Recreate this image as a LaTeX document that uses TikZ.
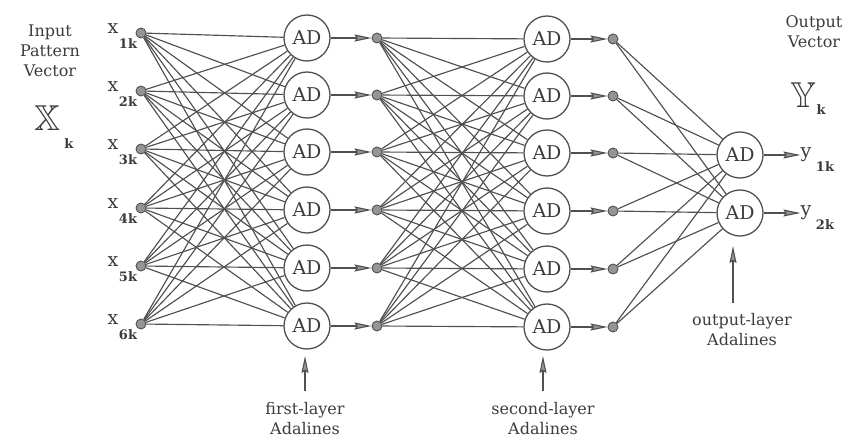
\documentclass[tikz,border=0pt]{standalone}
\usepackage{fontspec}
\setmainfont{DejaVu Serif}
\usepackage{amssymb}
\usetikzlibrary{arrows.meta}
\definecolor{ink}{HTML}{505050}
\definecolor{txt}{HTML}{3C3C3C}
\definecolor{dotfill}{HTML}{959595}
\begin{document}
\begin{tikzpicture}[x=1pt,y=-1pt,
  ad/.style={circle,draw=ink,line width=1.3pt,minimum size=46pt,inner sep=0pt,
    font=\fontsize{19}{19}\selectfont,text=txt},
  dotnode/.style={circle,draw=ink,fill=dotfill,minimum size=10pt,inner sep=0pt,line width=0.9pt},
  wire/.style={draw=ink,line width=1.15pt},
  arr/.style={draw=ink,line width=1.1pt,
    -{Stealth[length=17pt,width=7pt,inset=2pt,fill=dotfill]}},
  lbl/.style={text=txt,font=\fontsize{16}{20}\selectfont,align=center,inner sep=0pt},
  letter/.style={text=txt,font=\fontsize{19}{19}\selectfont,inner sep=0pt},
  subs/.style={text=txt,font=\fontsize{13}{13}\selectfont\bfseries,inner sep=0pt},
  big/.style={text=txt,font=\fontsize{36}{36}\selectfont,inner sep=0pt},
]
\useasboundingbox (0,0) rectangle (848,441);

% left labels
\node[lbl] (inlbl) at (50,51) {Input\\Pattern\\Vector};
\node[big] (Xk) at (47,118) {$\mathbb{X}$};
\node[subs] (Xks) at (69,144) {k};

% input dots and labels
\foreach \i/\y in {1/33,2/91,3/149,4/208,5/266,6/324}{
  \node[dotnode] (i\i) at (141,\y) {};
  \node[letter] (xl\i) at (113,\y-4) {x};
  \node[subs] (xs\i) at (128,\y+11) {\i k};
}

% first layer
\foreach \i/\y in {1/38,2/95,3/152,4/210,5/268,6/326}{
  \node[ad] (a\i) at (307,\y) {AD};
  \node[dotnode] (d\i) at (377,\y) {};
}

% second layer
\foreach \i/\y in {1/39,2/96,3/153,4/211,5/269,6/327}{
  \node[ad] (b\i) at (547,\y) {AD};
  \node[dotnode] (e\i) at (613,\y) {};
}

% output layer
\node[ad] (o1) at (740,155) {AD};
\node[ad] (o2) at (740,213) {AD};
\node[letter] (yv1) at (806,155) {y};
\node[subs] (ys1) at (825,167) {1k};
\node[letter] (yv2) at (806,213) {y};
\node[subs] (ys2) at (825,225) {2k};

% right labels
\node[lbl] (outlbl) at (814,32) {Output\\Vector};
\node[big] (Yk) at (803,95) {$\mathbb{Y}$};
\node[subs] (Yks) at (821,110) {k};

% full connections
\foreach \i in {1,...,6}{
  \foreach \j in {1,...,6}{
    \draw[wire] (i\i) -- (a\j);
    \draw[wire] (d\i) -- (b\j);
  }
  \draw[wire] (e\i) -- (o1);
  \draw[wire] (e\i) -- (o2);
  \draw[arr] (a\i) -- (d\i);
  \draw[arr] (b\i) -- (e\i);
}
\draw[arr] (o1) -- (o1 -| yv1.west);
\draw[arr] (o2) -- (o2 -| yv2.west);

% bottom labels
\node[lbl] (fl) at (305,419) {first-layer\\Adalines};
\node[lbl] (sl) at (543,419) {second-layer\\Adalines};
\node[lbl] (ol) at (742,330) {output-layer\\Adalines};
\coordinate (fa) at (305,391);
\coordinate (fat) at (305,356);
\coordinate (sa) at (543,391);
\coordinate (sat) at (543,356);
\coordinate (oa) at (733,303);
\coordinate (oat) at (733,246);
\draw[arr] (fa) -- (fat);
\draw[arr] (sa) -- (sat);
\draw[arr] (oa) -- (oat);
\end{tikzpicture}
\end{document}
